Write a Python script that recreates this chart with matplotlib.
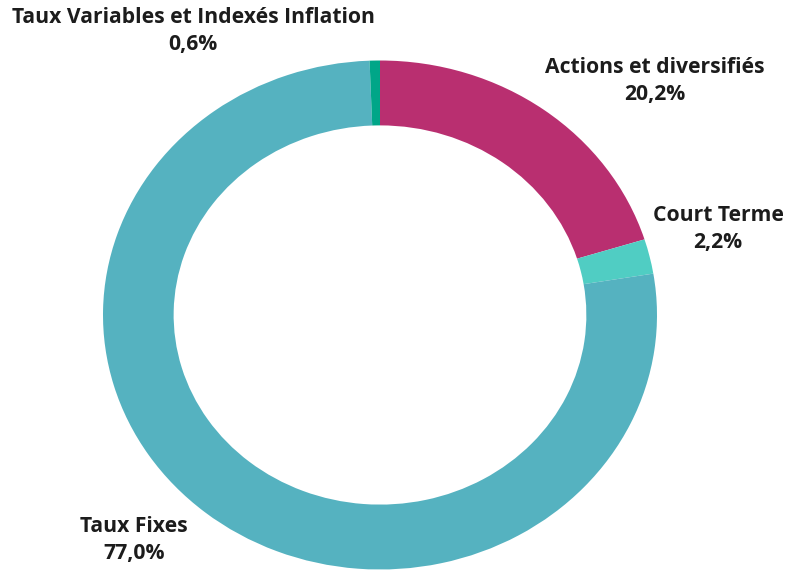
import matplotlib
matplotlib.use("Agg")
import matplotlib.pyplot as plt

# data, clockwise from 12 o'clock
categories = ["Actions et diversifiés", "Court Terme", "Taux Fixes",
              "Taux Variables et Indexés Inflation"]
shares = [20.2, 2.2, 77.0, 0.6]
colors = ["#B92F70", "#50CDC3", "#55B2C0", "#00A688"]

# label anchor points (data units, ring radius = 1)
label_pos = [(0.993, 0.919), (1.220, 0.338), (-0.888, -0.884), (-0.675, 1.116)]


def fmt(v):
    return ("%.1f%%" % v).replace(".", ",")


def main():
    plt.rcParams['font.family'] = ['Open Sans', 'DejaVu Sans']
    fig = plt.figure(figsize=(7.88, 5.71), dpi=100)
    ax = fig.add_axes([0, 0, 1, 1])

    ax.pie(shares, colors=colors, startangle=90, counterclock=False,
           radius=1.0, wedgeprops=dict(width=0.255, linewidth=0))

    # the original is stretched horizontally a little
    ax.set_aspect('auto')
    ax.set_xlim(-380 / 277, (788 - 380) / 277)
    ax.set_ylim(-(571 - 315) / 254.5, 315 / 254.5)
    ax.axis('off')

    for name, v, (x, y) in zip(categories, shares, label_pos):
        ax.text(x, y, name + "\n" + fmt(v), ha='center', va='center',
                multialignment='center', fontsize=15.2, fontweight='bold',
                color='#1c1c1c', linespacing=1.35)

    fig.savefig("out.png", dpi=100)


if __name__ == '__main__':
    main()
